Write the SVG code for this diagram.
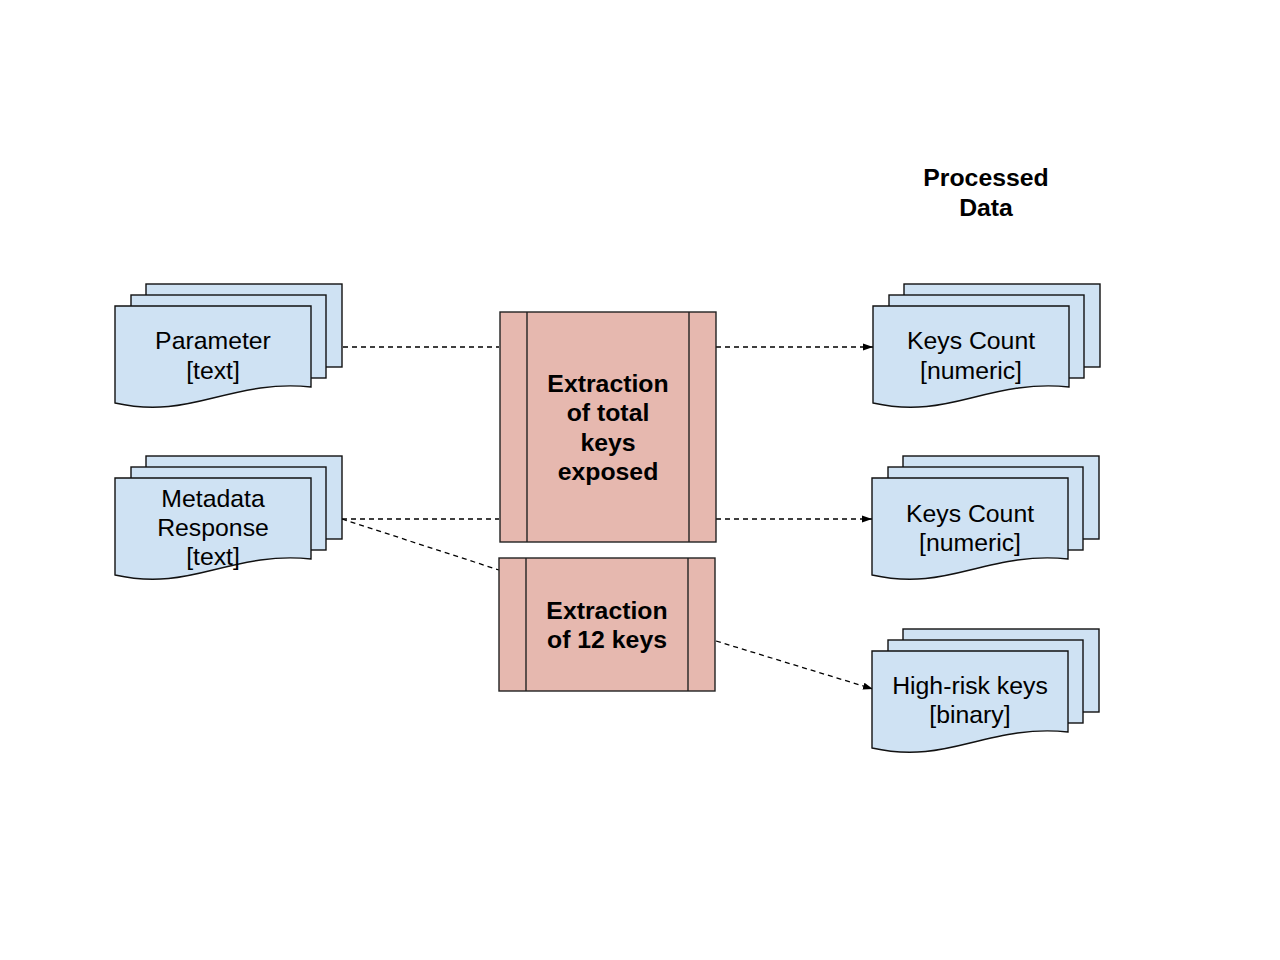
<svg xmlns="http://www.w3.org/2000/svg" width="1280" height="960" viewBox="0 0 1280 960">
<style>
.sheet{fill:#cfe2f3;stroke:#111;stroke-width:1.4}
.proc{fill:#e6b8af;stroke:#222;stroke-width:1.4}
.conn{fill:none;stroke:#000;stroke-width:1.3;stroke-dasharray:5,4}
.t{font-family:"Liberation Sans",Arial,sans-serif;font-size:24.8px;text-anchor:middle;fill:#000}
.b{font-weight:bold}
</style>
<defs>
<marker id="arr" markerWidth="11" markerHeight="9" refX="10" refY="4.5" orient="auto" markerUnits="userSpaceOnUse">
<path d="M0,1 L10,4.5 L0,8 Z" fill="#000"/>
</marker>
<g id="stackshape">
<rect class="sheet" x="31" y="-22" width="196" height="83"/>
<rect class="sheet" x="16" y="-11" width="195" height="83"/>
<path class="sheet" d="M0,0 H196 V81 C160,77 130,84 98,92 C70,99 40,106 0,97 Z"/>
</g>
</defs>
<rect width="1280" height="960" fill="#fff"/>

<g id="connectors">
<line class="conn" x1="343" y1="347" x2="499" y2="347"/>
<line class="conn" x1="342" y1="519" x2="499" y2="519"/>
<line class="conn" x1="342" y1="519" x2="499" y2="570"/>
<line class="conn" x1="716" y1="347" x2="873" y2="347" marker-end="url(#arr)"/>
<line class="conn" x1="716" y1="519" x2="872" y2="519" marker-end="url(#arr)"/>
<line class="conn" x1="716" y1="641" x2="873" y2="689" marker-end="url(#arr)"/>
</g>

<g id="title">
<text class="t b" x="986" y="186">Processed</text>
<text class="t b" x="986" y="216">Data</text>
</g>

<g id="parameter">
<use href="#stackshape" x="115" y="306"/>
<text class="t" x="213" y="349">Parameter</text>
<text class="t" x="213" y="379">[text]</text>
</g>

<g id="metadata">
<use href="#stackshape" x="115" y="478"/>
<text class="t" x="213" y="507">Metadata</text>
<text class="t" x="213" y="536">Response</text>
<text class="t" x="213" y="565">[text]</text>
</g>

<g id="extract-total">
<rect class="proc" x="500" y="312" width="216" height="230"/>
<line class="proc" x1="527" y1="312" x2="527" y2="542"/>
<line class="proc" x1="689" y1="312" x2="689" y2="542"/>
<text class="t b" x="608" y="392">Extraction</text>
<text class="t b" x="608" y="421">of total</text>
<text class="t b" x="608" y="451">keys</text>
<text class="t b" x="608" y="480">exposed</text>
</g>

<g id="extract-12">
<rect class="proc" x="499" y="558" width="216" height="133"/>
<line class="proc" x1="526" y1="558" x2="526" y2="691"/>
<line class="proc" x1="688" y1="558" x2="688" y2="691"/>
<text class="t b" x="607" y="619">Extraction</text>
<text class="t b" x="607" y="648">of 12 keys</text>
</g>

<g id="keys-count-1">
<use href="#stackshape" x="873" y="306"/>
<text class="t" x="971" y="349">Keys Count</text>
<text class="t" x="971" y="379">[numeric]</text>
</g>

<g id="keys-count-2">
<use href="#stackshape" x="872" y="478"/>
<text class="t" x="970" y="522">Keys Count</text>
<text class="t" x="970" y="551">[numeric]</text>
</g>

<g id="high-risk">
<use href="#stackshape" x="872" y="651"/>
<text class="t" x="970" y="694">High-risk keys</text>
<text class="t" x="970" y="723">[binary]</text>
</g>
</svg>
